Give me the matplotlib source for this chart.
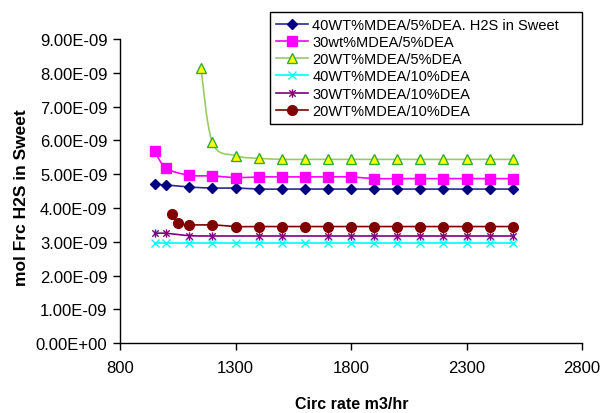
import numpy as np
import matplotlib
matplotlib.use("Agg")
import matplotlib.pyplot as plt
from matplotlib.path import Path
from matplotlib.lines import Line2D

plt.rcParams['font.family'] = ['Liberation Sans', 'DejaVu Sans']

# ---- data ----
x_full = [950, 1000, 1100, 1200, 1300, 1400, 1500, 1600, 1700, 1800,
          1900, 2000, 2100, 2200, 2300, 2400, 2500]

s1_name = "40WT%MDEA/5%DEA. H2S in Sweet"
s1_x = x_full
s1_y = [4.70, 4.68, 4.62, 4.59, 4.59, 4.56, 4.56, 4.56, 4.56, 4.56,
        4.56, 4.56, 4.56, 4.56, 4.56, 4.56, 4.56]

s2_name = "30wt%MDEA/5%DEA"
s2_x = x_full
s2_y = [5.68, 5.18, 4.97, 4.95, 4.90, 4.92, 4.92, 4.92, 4.92, 4.92,
        4.87, 4.87, 4.87, 4.87, 4.87, 4.87, 4.87]

s3_name = "20WT%MDEA/5%DEA"
s3_x = [1150, 1200, 1300, 1400, 1500, 1600, 1700, 1800, 1900, 2000,
        2100, 2200, 2300, 2400, 2500]
s3_y = [8.15, 5.94, 5.55, 5.47, 5.44, 5.44, 5.44, 5.44, 5.44, 5.44,
        5.44, 5.44, 5.44, 5.44, 5.44]

s4_name = "40WT%MDEA/10%DEA"
s4_x = x_full
s4_y = [2.97] * 17

s5_name = "30WT%MDEA/10%DEA"
s5_x = [950, 1000, 1100, 1200, 1400, 1500, 1700, 1800, 1900, 2000,
        2100, 2200, 2300, 2400, 2500]
s5_y = [3.25, 3.25, 3.18, 3.17, 3.17, 3.17, 3.17, 3.17, 3.17, 3.17,
        3.17, 3.17, 3.17, 3.17, 3.17]

s6_name = "20WT%MDEA/10%DEA"
s6_x = [1025, 1050, 1100, 1200, 1300, 1400, 1500, 1600, 1700, 1800,
        1900, 2000, 2100, 2200, 2300, 2400, 2500]
s6_y = [3.82, 3.55, 3.50, 3.50, 3.45, 3.45, 3.45, 3.45, 3.45, 3.45,
        3.45, 3.45, 3.45, 3.45, 3.45, 3.45, 3.45]

scale = 1e-9
x_ticks = [800, 1300, 1800, 2300, 2800]
y_ticks = [i * 1e-9 for i in range(10)]

# ---- helpers ----
def smooth(xs, ys, sx, sy, n=20):
    """Catmull-Rom (Bezier form) smoothing in normalised coordinates."""
    P = np.column_stack([np.asarray(xs, float) / sx, np.asarray(ys, float) / sy])
    if len(P) < 3:
        return P[:, 0] * sx, P[:, 1] * sy
    out = [P[0]]
    for i in range(len(P) - 1):
        p0 = P[i - 1] if i > 0 else P[i]
        p1 = P[i]
        p2 = P[i + 1]
        p3 = P[i + 2] if i + 2 < len(P) else P[i + 1]
        c1 = p1 + (p2 - p0) / 6.0
        c2 = p2 - (p3 - p1) / 6.0
        t = np.linspace(0, 1, n)[1:, None]
        seg = ((1 - t) ** 3) * p1 + 3 * ((1 - t) ** 2) * t * c1 + 3 * (1 - t) * t ** 2 * c2 + t ** 3 * p2
        out.extend(seg)
    out = np.array(out)
    return out[:, 0] * sx, out[:, 1] * sy

star = Path([(-1, -1), (1, 1), (-1, 1), (1, -1), (0, -1.3), (0, 1.3)],
            [Path.MOVETO, Path.LINETO, Path.MOVETO, Path.LINETO, Path.MOVETO, Path.LINETO])

fig = plt.figure(figsize=(6.0, 4.14), dpi=100)
ax = fig.add_axes([0.2, 0.169, 0.77, 0.734])

series = [
    (s1_name, s1_x, s1_y, dict(lc='#2a2a90', marker='D', ms=5, mfc='#000080', mec='#000080')),
    (s2_name, s2_x, s2_y, dict(lc='#FF00FF', marker='s', ms=6.5, mfc='#FF00FF', mec='#FF00FF')),
    (s3_name, s3_x, s3_y, dict(lc='#99CC66', marker='^', ms=7, mfc='#FFFF00', mec='#33AA33')),
    (s4_name, s4_x, s4_y, dict(lc='#00FFFF', marker='x', ms=6, mfc='none', mec='#00FFFF')),
    (s5_name, s5_x, s5_y, dict(lc='#800080', marker=star, ms=6, mfc='none', mec='#800080')),
    (s6_name, s6_x, s6_y, dict(lc='#800000', marker='o', ms=7, mfc='#800000', mec='#800000')),
]

handles = []
sx = 2000 / 462.0
sy = 9e-9 / 304.0
for name, xs, ys, st in series:
    yv = np.array(ys) * scale
    xl, yl = smooth(xs, yv, sx, sy)
    ax.plot(xl, yl, color=st['lc'], lw=1.2, zorder=2)
    ax.plot(xs, yv, linestyle='none', marker=st['marker'], ms=st['ms'],
            mfc=st['mfc'], mec=st['mec'], mew=1.0, zorder=3)
    handles.append(Line2D([0], [0], color=st['lc'], lw=1.2, marker=st['marker'],
                          ms=st['ms'], mfc=st['mfc'], mec=st['mec'], mew=1.0, label=name))

ax.set_xlim(800, 2800)
ax.set_ylim(0, 9e-9)
ax.set_xticks(x_ticks)
ax.set_xticklabels([str(v) for v in x_ticks])
ax.set_yticks(y_ticks)
ax.set_yticklabels(["%.2fE-09" % (v / 1e-9) if v > 0 else "0.00E+00" for v in y_ticks])
ax.tick_params(axis='both', labelsize=12, direction='out', length=5, width=1, colors='black')
ax.tick_params(axis='x', pad=7)
ax.tick_params(axis='y', pad=4)
ax.spines['top'].set_visible(False)
ax.spines['right'].set_visible(False)
for sp in ('left', 'bottom'):
    ax.spines[sp].set_linewidth(1.0)

ax.set_xlabel("Circ rate m3/hr", fontsize=11.5, fontweight='bold')
ax.set_ylabel("mol Frc H2S in Sweet", fontsize=12.5, fontweight='bold')
ax.xaxis.set_label_coords((352 - 120) / 462.0, (344 - 397) / 304.0)
ax.xaxis.label.set_va('top')
ax.yaxis.set_label_coords((29 - 120) / 462.0, (344 - 198) / 304.0)

leg = fig.legend(handles=handles, loc='upper left',
                 bbox_to_anchor=(270 / 600, 1 - 125 / 414, 312 / 600, 112 / 414),
                 mode='expand',
                 frameon=True, fancybox=False, edgecolor='black', framealpha=1,
                 fontsize=10.5, handlelength=2.2, handletextpad=0.3, labelspacing=0.22,
                 borderpad=0.4, borderaxespad=0)
leg.get_frame().set_linewidth(1.0)

fig.savefig("out.png", dpi=100)
